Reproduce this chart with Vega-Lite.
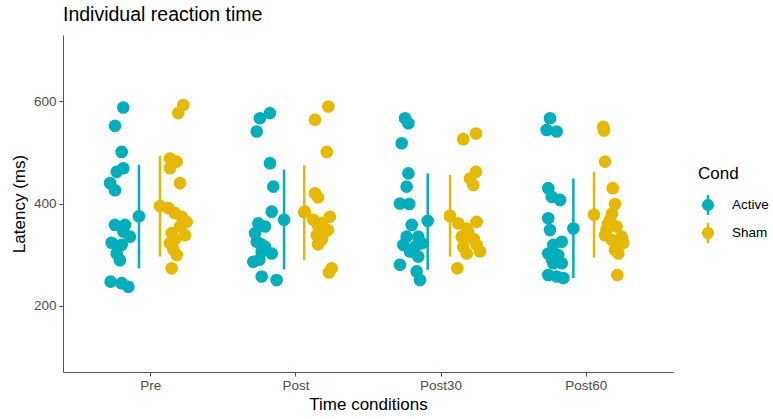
{
  "$schema": "https://vega.github.io/schema/vega-lite/v6.json",
  "width": 610,
  "height": 337,
  "autosize": {"type": "none"},
  "padding": {"left": 63, "top": 35, "right": 100, "bottom": 47},
  "background": "white",
  "config": {"view": {"stroke": null}, "font": "Liberation Sans"},
  "title": {"text": "Individual reaction time", "anchor": "start", "frame": "group", "fontSize": 19.5, "fontWeight": "normal", "color": "black", "offset": 10, "font": "Liberation Sans"},
  "datasets": {
    "points": [
      {"Time": "Pre", "Cond": "Active", "pos": 0.815, "latency": 588},
      {"Time": "Pre", "Cond": "Active", "pos": 0.758, "latency": 552},
      {"Time": "Pre", "Cond": "Active", "pos": 0.804, "latency": 501},
      {"Time": "Pre", "Cond": "Active", "pos": 0.815, "latency": 469},
      {"Time": "Pre", "Cond": "Active", "pos": 0.770, "latency": 462},
      {"Time": "Pre", "Cond": "Active", "pos": 0.724, "latency": 440},
      {"Time": "Pre", "Cond": "Active", "pos": 0.758, "latency": 426},
      {"Time": "Pre", "Cond": "Active", "pos": 0.758, "latency": 358},
      {"Time": "Pre", "Cond": "Active", "pos": 0.827, "latency": 358},
      {"Time": "Pre", "Cond": "Active", "pos": 0.815, "latency": 345},
      {"Time": "Pre", "Cond": "Active", "pos": 0.861, "latency": 335},
      {"Time": "Pre", "Cond": "Active", "pos": 0.735, "latency": 323},
      {"Time": "Pre", "Cond": "Active", "pos": 0.804, "latency": 319},
      {"Time": "Pre", "Cond": "Active", "pos": 0.770, "latency": 302},
      {"Time": "Pre", "Cond": "Active", "pos": 0.792, "latency": 289},
      {"Time": "Pre", "Cond": "Active", "pos": 0.728, "latency": 247},
      {"Time": "Pre", "Cond": "Active", "pos": 0.804, "latency": 244},
      {"Time": "Pre", "Cond": "Active", "pos": 0.850, "latency": 237},
      {"Time": "Pre", "Cond": "Sham", "pos": 1.228, "latency": 593},
      {"Time": "Pre", "Cond": "Sham", "pos": 1.194, "latency": 577},
      {"Time": "Pre", "Cond": "Sham", "pos": 1.137, "latency": 488},
      {"Time": "Pre", "Cond": "Sham", "pos": 1.183, "latency": 482},
      {"Time": "Pre", "Cond": "Sham", "pos": 1.137, "latency": 469},
      {"Time": "Pre", "Cond": "Sham", "pos": 1.206, "latency": 440},
      {"Time": "Pre", "Cond": "Sham", "pos": 1.125, "latency": 391},
      {"Time": "Pre", "Cond": "Sham", "pos": 1.171, "latency": 381},
      {"Time": "Pre", "Cond": "Sham", "pos": 1.217, "latency": 374},
      {"Time": "Pre", "Cond": "Sham", "pos": 1.252, "latency": 364},
      {"Time": "Pre", "Cond": "Sham", "pos": 1.206, "latency": 355},
      {"Time": "Pre", "Cond": "Sham", "pos": 1.148, "latency": 342},
      {"Time": "Pre", "Cond": "Sham", "pos": 1.240, "latency": 338},
      {"Time": "Pre", "Cond": "Sham", "pos": 1.171, "latency": 330},
      {"Time": "Pre", "Cond": "Sham", "pos": 1.137, "latency": 322},
      {"Time": "Pre", "Cond": "Sham", "pos": 1.160, "latency": 310},
      {"Time": "Pre", "Cond": "Sham", "pos": 1.183, "latency": 299},
      {"Time": "Pre", "Cond": "Sham", "pos": 1.148, "latency": 273},
      {"Time": "Post", "Cond": "Active", "pos": 1.825, "latency": 577},
      {"Time": "Post", "Cond": "Active", "pos": 1.756, "latency": 567},
      {"Time": "Post", "Cond": "Active", "pos": 1.734, "latency": 541},
      {"Time": "Post", "Cond": "Active", "pos": 1.825, "latency": 479},
      {"Time": "Post", "Cond": "Active", "pos": 1.848, "latency": 433},
      {"Time": "Post", "Cond": "Active", "pos": 1.837, "latency": 384},
      {"Time": "Post", "Cond": "Active", "pos": 1.745, "latency": 361},
      {"Time": "Post", "Cond": "Active", "pos": 1.791, "latency": 355},
      {"Time": "Post", "Cond": "Active", "pos": 1.722, "latency": 342},
      {"Time": "Post", "Cond": "Active", "pos": 1.734, "latency": 325},
      {"Time": "Post", "Cond": "Active", "pos": 1.765, "latency": 320},
      {"Time": "Post", "Cond": "Active", "pos": 1.791, "latency": 315},
      {"Time": "Post", "Cond": "Active", "pos": 1.768, "latency": 306},
      {"Time": "Post", "Cond": "Active", "pos": 1.837, "latency": 302},
      {"Time": "Post", "Cond": "Active", "pos": 1.752, "latency": 290},
      {"Time": "Post", "Cond": "Active", "pos": 1.710, "latency": 286},
      {"Time": "Post", "Cond": "Active", "pos": 1.768, "latency": 257},
      {"Time": "Post", "Cond": "Active", "pos": 1.871, "latency": 250},
      {"Time": "Post", "Cond": "Sham", "pos": 2.227, "latency": 590},
      {"Time": "Post", "Cond": "Sham", "pos": 2.135, "latency": 564},
      {"Time": "Post", "Cond": "Sham", "pos": 2.216, "latency": 501},
      {"Time": "Post", "Cond": "Sham", "pos": 2.135, "latency": 420},
      {"Time": "Post", "Cond": "Sham", "pos": 2.156, "latency": 412},
      {"Time": "Post", "Cond": "Sham", "pos": 2.066, "latency": 384},
      {"Time": "Post", "Cond": "Sham", "pos": 2.238, "latency": 374},
      {"Time": "Post", "Cond": "Sham", "pos": 2.123, "latency": 368},
      {"Time": "Post", "Cond": "Sham", "pos": 2.183, "latency": 362},
      {"Time": "Post", "Cond": "Sham", "pos": 2.158, "latency": 355},
      {"Time": "Post", "Cond": "Sham", "pos": 2.224, "latency": 348},
      {"Time": "Post", "Cond": "Sham", "pos": 2.204, "latency": 345},
      {"Time": "Post", "Cond": "Sham", "pos": 2.147, "latency": 338},
      {"Time": "Post", "Cond": "Sham", "pos": 2.183, "latency": 332},
      {"Time": "Post", "Cond": "Sham", "pos": 2.181, "latency": 329},
      {"Time": "Post", "Cond": "Sham", "pos": 2.156, "latency": 320},
      {"Time": "Post", "Cond": "Sham", "pos": 2.250, "latency": 273},
      {"Time": "Post", "Cond": "Sham", "pos": 2.231, "latency": 265},
      {"Time": "Post30", "Cond": "Active", "pos": 2.755, "latency": 567},
      {"Time": "Post30", "Cond": "Active", "pos": 2.778, "latency": 557},
      {"Time": "Post30", "Cond": "Active", "pos": 2.732, "latency": 518},
      {"Time": "Post30", "Cond": "Active", "pos": 2.778, "latency": 459},
      {"Time": "Post30", "Cond": "Active", "pos": 2.766, "latency": 433},
      {"Time": "Post30", "Cond": "Active", "pos": 2.720, "latency": 400},
      {"Time": "Post30", "Cond": "Active", "pos": 2.784, "latency": 399},
      {"Time": "Post30", "Cond": "Active", "pos": 2.801, "latency": 358},
      {"Time": "Post30", "Cond": "Active", "pos": 2.766, "latency": 335},
      {"Time": "Post30", "Cond": "Active", "pos": 2.846, "latency": 335},
      {"Time": "Post30", "Cond": "Active", "pos": 2.870, "latency": 322},
      {"Time": "Post30", "Cond": "Active", "pos": 2.743, "latency": 319},
      {"Time": "Post30", "Cond": "Active", "pos": 2.824, "latency": 315},
      {"Time": "Post30", "Cond": "Active", "pos": 2.789, "latency": 306},
      {"Time": "Post30", "Cond": "Active", "pos": 2.846, "latency": 296},
      {"Time": "Post30", "Cond": "Active", "pos": 2.720, "latency": 280},
      {"Time": "Post30", "Cond": "Active", "pos": 2.835, "latency": 267},
      {"Time": "Post30", "Cond": "Active", "pos": 2.858, "latency": 250},
      {"Time": "Post30", "Cond": "Sham", "pos": 3.244, "latency": 537},
      {"Time": "Post30", "Cond": "Sham", "pos": 3.156, "latency": 526},
      {"Time": "Post30", "Cond": "Sham", "pos": 3.244, "latency": 462},
      {"Time": "Post30", "Cond": "Sham", "pos": 3.202, "latency": 449},
      {"Time": "Post30", "Cond": "Sham", "pos": 3.225, "latency": 436},
      {"Time": "Post30", "Cond": "Sham", "pos": 3.064, "latency": 375},
      {"Time": "Post30", "Cond": "Sham", "pos": 3.248, "latency": 364},
      {"Time": "Post30", "Cond": "Sham", "pos": 3.122, "latency": 361},
      {"Time": "Post30", "Cond": "Sham", "pos": 3.180, "latency": 351},
      {"Time": "Post30", "Cond": "Sham", "pos": 3.188, "latency": 345},
      {"Time": "Post30", "Cond": "Sham", "pos": 3.145, "latency": 335},
      {"Time": "Post30", "Cond": "Sham", "pos": 3.202, "latency": 335},
      {"Time": "Post30", "Cond": "Sham", "pos": 3.230, "latency": 330},
      {"Time": "Post30", "Cond": "Sham", "pos": 3.248, "latency": 319},
      {"Time": "Post30", "Cond": "Sham", "pos": 3.156, "latency": 315},
      {"Time": "Post30", "Cond": "Sham", "pos": 3.271, "latency": 306},
      {"Time": "Post30", "Cond": "Sham", "pos": 3.180, "latency": 302},
      {"Time": "Post30", "Cond": "Sham", "pos": 3.115, "latency": 273},
      {"Time": "Post60", "Cond": "Active", "pos": 3.753, "latency": 567},
      {"Time": "Post60", "Cond": "Active", "pos": 3.730, "latency": 544},
      {"Time": "Post60", "Cond": "Active", "pos": 3.799, "latency": 541},
      {"Time": "Post60", "Cond": "Active", "pos": 3.741, "latency": 430},
      {"Time": "Post60", "Cond": "Active", "pos": 3.765, "latency": 413},
      {"Time": "Post60", "Cond": "Active", "pos": 3.822, "latency": 407},
      {"Time": "Post60", "Cond": "Active", "pos": 3.741, "latency": 371},
      {"Time": "Post60", "Cond": "Active", "pos": 3.753, "latency": 348},
      {"Time": "Post60", "Cond": "Active", "pos": 3.834, "latency": 325},
      {"Time": "Post60", "Cond": "Active", "pos": 3.776, "latency": 319},
      {"Time": "Post60", "Cond": "Active", "pos": 3.741, "latency": 302},
      {"Time": "Post60", "Cond": "Active", "pos": 3.810, "latency": 299},
      {"Time": "Post60", "Cond": "Active", "pos": 3.767, "latency": 290},
      {"Time": "Post60", "Cond": "Active", "pos": 3.776, "latency": 283},
      {"Time": "Post60", "Cond": "Active", "pos": 3.834, "latency": 283},
      {"Time": "Post60", "Cond": "Active", "pos": 3.741, "latency": 260},
      {"Time": "Post60", "Cond": "Active", "pos": 3.799, "latency": 257},
      {"Time": "Post60", "Cond": "Active", "pos": 3.845, "latency": 254},
      {"Time": "Post60", "Cond": "Sham", "pos": 4.120, "latency": 550},
      {"Time": "Post60", "Cond": "Sham", "pos": 4.125, "latency": 543},
      {"Time": "Post60", "Cond": "Sham", "pos": 4.132, "latency": 482},
      {"Time": "Post60", "Cond": "Sham", "pos": 4.185, "latency": 430},
      {"Time": "Post60", "Cond": "Sham", "pos": 4.201, "latency": 399},
      {"Time": "Post60", "Cond": "Sham", "pos": 4.180, "latency": 380},
      {"Time": "Post60", "Cond": "Sham", "pos": 4.166, "latency": 368},
      {"Time": "Post60", "Cond": "Sham", "pos": 4.152, "latency": 360},
      {"Time": "Post60", "Cond": "Sham", "pos": 4.212, "latency": 355},
      {"Time": "Post60", "Cond": "Sham", "pos": 4.143, "latency": 348},
      {"Time": "Post60", "Cond": "Sham", "pos": 4.132, "latency": 338},
      {"Time": "Post60", "Cond": "Sham", "pos": 4.247, "latency": 335},
      {"Time": "Post60", "Cond": "Sham", "pos": 4.178, "latency": 329},
      {"Time": "Post60", "Cond": "Sham", "pos": 4.258, "latency": 323},
      {"Time": "Post60", "Cond": "Sham", "pos": 4.224, "latency": 322},
      {"Time": "Post60", "Cond": "Sham", "pos": 4.201, "latency": 309},
      {"Time": "Post60", "Cond": "Sham", "pos": 4.224, "latency": 302},
      {"Time": "Post60", "Cond": "Sham", "pos": 4.217, "latency": 260}
    ],
    "summary": [
      {"Time": "Pre", "Cond": "Active", "pos": 0.923, "mean": 375, "lo": 273, "hi": 476},
      {"Time": "Pre", "Cond": "Sham", "pos": 1.068, "mean": 395, "lo": 296, "hi": 493},
      {"Time": "Post", "Cond": "Active", "pos": 1.922, "mean": 368, "lo": 271, "hi": 466},
      {"Time": "Post", "Cond": "Sham", "pos": 2.061, "mean": 383, "lo": 289, "hi": 475},
      {"Time": "Post30", "Cond": "Active", "pos": 2.911, "mean": 366, "lo": 270, "hi": 459},
      {"Time": "Post30", "Cond": "Sham", "pos": 3.065, "mean": 376, "lo": 296, "hi": 456},
      {"Time": "Post60", "Cond": "Active", "pos": 3.914, "mean": 351, "lo": 254, "hi": 449},
      {"Time": "Post60", "Cond": "Sham", "pos": 4.056, "mean": 378, "lo": 294, "hi": 462}
    ]
  },
  "layer": [
    {
      "data": {"name": "points"},
      "mark": {"type": "circle", "size": 160, "opacity": 1},
      "encoding": {
        "x": {
          "field": "pos", "type": "quantitative",
          "scale": {"domain": [0.4, 4.6], "nice": false, "zero": false},
          "axis": {
            "title": "Time conditions", "values": [1, 2, 3, 4],
            "labelExpr": "['', 'Pre', 'Post', 'Post30', 'Post60'][datum.value]",
            "grid": false, "domainColor": "#555555", "tickColor": "#555555", "tickSize": 4,
            "labelColor": "#4D4D4D", "labelFontSize": 13.5, "labelPadding": 2,
            "titleColor": "black", "titleFontSize": 17, "titleFontWeight": "normal", "titlePadding": 5,
            "labelFont": "Liberation Sans", "titleFont": "Liberation Sans"
          }
        },
        "y": {
          "field": "latency", "type": "quantitative",
          "scale": {"domain": [70, 730], "nice": false, "zero": false},
          "axis": {
            "title": "Latency (ms)", "values": [200, 400, 600],
            "grid": false, "domainColor": "#555555", "tickColor": "#555555", "tickSize": 4,
            "labelColor": "#4D4D4D", "labelFontSize": 13.5, "labelPadding": 3,
            "titleColor": "black", "titleFontSize": 17, "titleFontWeight": "normal", "titlePadding": 5,
            "labelFont": "Liberation Sans", "titleFont": "Liberation Sans"
          }
        },
        "color": {
          "field": "Cond", "type": "nominal",
          "scale": {"domain": ["Active", "Sham"], "range": ["#00AFBB", "#E7B800"]},
          "legend": {
            "title": "Cond", "orient": "none", "legendX": 635, "legendY": 131,
            "symbolType": "M-0.12,-1H0.12V1H-0.12Z M-0.6,0A0.6,0.6 0 1,1 0.6,0A0.6,0.6 0 1,1 -0.6,0Z",
            "symbolSize": 400, "symbolStrokeWidth": 0, "symbolOpacity": 1,
            "titleFontSize": 17, "titleFontWeight": "normal", "titleColor": "black", "titlePadding": 12,
            "labelFontSize": 13.5, "labelColor": "black", "labelOffset": 14, "rowPadding": 8,
            "titleFont": "Liberation Sans", "labelFont": "Liberation Sans"
          }
        }
      }
    },
    {
      "data": {"name": "summary"},
      "mark": {"type": "rule", "strokeWidth": 2.5},
      "encoding": {
        "x": {"field": "pos", "type": "quantitative"},
        "y": {"field": "lo", "type": "quantitative"},
        "y2": {"field": "hi"},
        "color": {"field": "Cond", "type": "nominal"}
      }
    },
    {
      "data": {"name": "summary"},
      "mark": {"type": "circle", "size": 160, "opacity": 1},
      "encoding": {
        "x": {"field": "pos", "type": "quantitative"},
        "y": {"field": "mean", "type": "quantitative"},
        "color": {"field": "Cond", "type": "nominal"}
      }
    }
  ]
}
